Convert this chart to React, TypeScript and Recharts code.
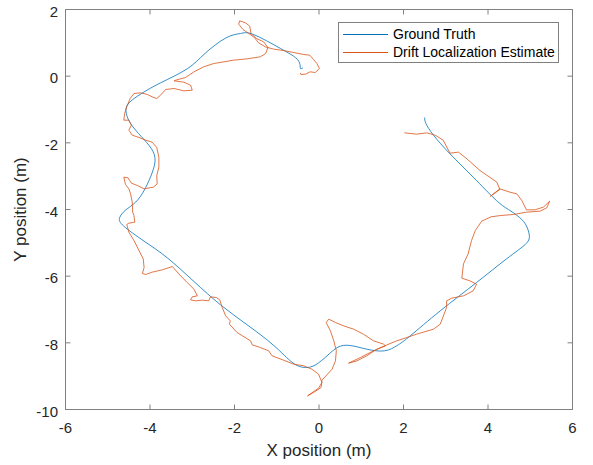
import { LineChart, Line, XAxis, YAxis, Legend, CartesianGrid, ReferenceLine } from "recharts";

// path points, [x, y] in metres, in travel order
const groundTruth: [number, number][] = [
  [2.5, -1.24], [2.53, -1.42], [2.71, -1.77], [3.1, -2.33], [3.65, -3.03],
  [4.2, -3.73], [4.52, -4.03], [4.8, -4.3], [4.93, -4.55], [4.98, -4.8],
  [4.88, -5.05], [4.44, -5.48], [3.73, -6.19], [2.87, -7.04], [2.16, -7.79],
  [1.85, -8.08], [1.55, -8.24], [1.13, -8.19], [0.74, -8.08], [0.45, -8.13],
  [0.19, -8.39], [-0.08, -8.66], [-0.32, -8.74], [-0.62, -8.6], [-1.07, -8.08],
  [-1.7, -7.46], [-2.33, -6.86], [-2.96, -6.16], [-3.59, -5.45], [-4.14, -4.95],
  [-4.62, -4.5], [-4.72, -4.25], [-4.58, -4.02], [-4.34, -3.78], [-4.14, -3.43],
  [-3.99, -3.03], [-3.88, -2.55], [-3.97, -2.17], [-4.2, -1.82], [-4.46, -1.42],
  [-4.57, -1.04], [-4.48, -0.78], [-4.2, -0.52], [-3.75, -0.2], [-3.12, 0.22],
  [-2.7, 0.68], [-2.2, 1.15], [-1.86, 1.28], [-1.55, 1.25], [-0.91, 0.83],
  [-0.55, 0.55], [-0.45, 0.35], [-0.44, 0.23], [-0.38, 0.25],
];

const driftEstimate: [number, number][] = [
  [-0.44, 0.1], [-0.43, 0.05], [-0.32, 0.06], [-0.21, 0.13], [-0.09, 0.11],
  [0.01, 0.23], [-0.05, 0.38], [-0.13, 0.5], [-0.22, 0.63], [-0.36, 0.65],
  [-0.6, 0.71], [-0.84, 0.77], [-1.07, 0.81], [-1.27, 0.88], [-1.43, 1.0],
  [-1.53, 1.16], [-1.66, 1.28], [-1.8, 1.4], [-1.9, 1.56], [-1.88, 1.66],
  [-1.74, 1.6], [-1.64, 1.5], [-1.61, 1.28], [-1.48, 1.13], [-1.31, 1.03],
  [-1.21, 0.86], [-1.26, 0.68], [-1.39, 0.58], [-1.7, 0.52], [-2.02, 0.48],
  [-2.25, 0.43], [-2.49, 0.38], [-2.73, 0.28], [-2.96, 0.13], [-3.16, -0.04],
  [-3.39, -0.12], [-3.43, -0.14], [-3.2, -0.18], [-3.04, -0.27], [-3.0, -0.42],
  [-3.2, -0.44], [-3.43, -0.37], [-3.63, -0.4], [-3.75, -0.57], [-3.84, -0.67],
  [-3.95, -0.62], [-4.06, -0.55], [-4.22, -0.5], [-4.38, -0.52], [-4.47, -0.67],
  [-4.55, -0.92], [-4.6, -1.12], [-4.62, -1.32], [-4.5, -1.32], [-4.44, -1.47],
  [-4.5, -1.62], [-4.42, -1.77], [-4.26, -1.84], [-4.1, -1.92], [-3.95, -1.98],
  [-3.84, -2.14], [-3.79, -2.43], [-3.79, -2.73], [-3.84, -2.98], [-3.83, -3.23],
  [-3.92, -3.33], [-4.14, -3.38], [-4.3, -3.28], [-4.44, -3.21], [-4.52, -3.05],
  [-4.62, -3.03], [-4.58, -3.25], [-4.5, -3.38], [-4.46, -3.53], [-4.42, -3.78],
  [-4.41, -4.08], [-4.38, -4.18], [-4.36, -4.38], [-4.5, -4.41], [-4.55, -4.45],
  [-4.5, -4.68], [-4.38, -4.93], [-4.26, -5.23], [-4.16, -5.48], [-4.14, -5.74],
  [-4.18, -5.92], [-4.1, -5.95], [-3.95, -5.88], [-3.71, -5.81], [-3.47, -5.71],
  [-3.32, -5.93], [-3.12, -6.19], [-2.96, -6.39], [-2.88, -6.59], [-3.0, -6.62],
  [-3.04, -6.71], [-2.92, -6.74], [-2.76, -6.72], [-2.61, -6.74], [-2.57, -6.62],
  [-2.43, -6.64], [-2.35, -6.71], [-2.29, -6.94], [-2.21, -7.19], [-2.1, -7.34],
  [-2.12, -7.44], [-1.94, -7.69], [-1.62, -7.94], [-1.58, -8.06], [-1.39, -8.14],
  [-1.19, -8.24], [-1.11, -8.39], [-0.84, -8.52], [-0.6, -8.64], [-0.36, -8.69],
  [-0.17, -8.79], [-0.01, -8.94], [0.07, -9.19], [-0.01, -9.36], [-0.27, -9.59],
  [-0.13, -9.49], [0.05, -9.34], [0.07, -9.12], [0.31, -8.79], [0.39, -8.54],
  [0.41, -8.24], [0.35, -7.94], [0.27, -7.64], [0.17, -7.39], [0.23, -7.29],
  [0.39, -7.39], [0.58, -7.49], [0.82, -7.59], [1.05, -7.74], [1.29, -7.94],
  [1.53, -8.04], [1.57, -8.09], [1.29, -8.24], [0.98, -8.44], [0.7, -8.61],
  [0.9, -8.54], [1.13, -8.39], [1.37, -8.19], [1.61, -8.06], [1.84, -7.94],
  [2.08, -7.84], [2.31, -7.74], [2.71, -7.59], [2.87, -7.44], [3.02, -6.94],
  [3.02, -6.74], [3.14, -6.66], [3.42, -6.59], [3.65, -6.44], [3.73, -6.24],
  [3.57, -6.14], [3.38, -6.06], [3.42, -5.63], [3.53, -5.33], [3.61, -4.93],
  [3.7, -4.63], [3.85, -4.35], [4.07, -4.22], [4.3, -4.18], [4.6, -4.15],
  [4.91, -4.08], [5.23, -4.05], [5.39, -3.95], [5.46, -3.75], [5.31, -3.93],
  [5.11, -4.01], [4.91, -4.01], [4.8, -3.73], [4.68, -3.53], [4.52, -3.48],
  [4.28, -3.38], [4.05, -3.61], [4.28, -3.4], [4.21, -3.18], [3.81, -2.83],
  [3.5, -2.48], [3.3, -2.28], [3.1, -2.31], [2.94, -1.92], [2.75, -1.77],
  [2.55, -1.7], [2.31, -1.74], [2.02, -1.7],
];

const xTicks = [-6, -4, -2, 0, 2, 4, 6];
const yTicks = [-10, -8, -6, -4, -2, 0, 2];
const xDomain = [-6, 6];
const yDomain = [-10, 2];
const seriesNames = ["Ground Truth", "Drift Localization Estimate"];
const seriesColors = ["#0072BD", "#D95319"];

const FONT = "'Liberation Sans', Arial, Helvetica, sans-serif";
const AXIS = "#808080";
const TEXT = "#262626";
const TICK_LEN = 5;

const toPoints = (pts: [number, number][]) => pts.map(([x, y]) => ({ x, y }));

// MATLAB-style inward ticks: short stubs at both ends of a reference line
function VerticalStubs(props: any) {
  const { x1, y1, y2 } = props;
  const top = Math.min(y1, y2);
  const bottom = Math.max(y1, y2);
  return (
    <g>
      <line x1={x1} y1={top} x2={x1} y2={top + TICK_LEN} stroke={AXIS} />
      <line x1={x1} y1={bottom} x2={x1} y2={bottom - TICK_LEN} stroke={AXIS} />
    </g>
  );
}

function HorizontalStubs(props: any) {
  const { x1, x2, y1 } = props;
  const left = Math.min(x1, x2);
  const right = Math.max(x1, x2);
  return (
    <g>
      <line x1={left} y1={y1} x2={left + TICK_LEN} y2={y1} stroke={AXIS} />
      <line x1={right} y1={y1} x2={right - TICK_LEN} y2={y1} stroke={AXIS} />
    </g>
  );
}

function renderLegend() {
  return (
    <div
      style={{
        width: 221,
        height: 41,
        boxSizing: "border-box",
        border: `1px solid ${AXIS}`,
        background: "#fff",
        padding: "2px 0 0 4px",
        fontFamily: FONT,
        fontSize: 14,
        lineHeight: "18px",
        color: "#000",
      }}
    >
      {seriesNames.map((name, i) => (
        <div key={name} style={{ display: "flex", alignItems: "center", whiteSpace: "nowrap" }}>
          <span
            style={{
              display: "inline-block",
              width: 45,
              height: 0,
              borderTop: `1px solid ${seriesColors[i]}`,
              marginRight: 5,
            }}
          />
          {name}
        </div>
      ))}
    </div>
  );
}

export default function App() {
  const tickStyle = { fill: TEXT, fontSize: 15, fontFamily: FONT };
  const labelStyle = { fill: TEXT, fontSize: 17, fontFamily: FONT };
  return (
    <div style={{ position: "absolute", left: 0, top: 0, width: 593, height: 465, background: "#fff" }}>
      <LineChart width={593} height={465} margin={{ top: 9.5, right: 20.5, bottom: 0, left: 0 }}>
        {/* axes box */}
        <CartesianGrid horizontalValues={yDomain} verticalValues={xDomain} stroke={AXIS} strokeWidth={1} />
        <XAxis
          dataKey="x"
          type="number"
          domain={xDomain}
          ticks={xTicks}
          allowDataOverflow
          height={55.5}
          axisLine={false}
          tickLine={false}
          tickSize={0}
          tickMargin={12.5}
          tick={tickStyle}
          label={{
            value: "X position (m)",
            position: "insideBottom",
            offset: 9,
            style: labelStyle,
          }}
        />
        <YAxis
          dataKey="y"
          type="number"
          domain={yDomain}
          ticks={yTicks}
          allowDataOverflow
          width={65.5}
          axisLine={false}
          tickLine={false}
          tickSize={0}
          tickMargin={7.5}
          tick={{ ...tickStyle, dy: 2 }}
          label={{
            value: "Y position (m)",
            angle: -90,
            position: "insideLeft",
            offset: 20,
            style: { ...labelStyle, textAnchor: "middle" },
          }}
        />
        {xTicks.map((t) => (
          <ReferenceLine key={`xt${t}`} x={t} shape={VerticalStubs} />
        ))}
        {yTicks.map((t) => (
          <ReferenceLine key={`yt${t}`} y={t} shape={HorizontalStubs} />
        ))}
        <Legend
          layout="vertical"
          align="center"
          verticalAlign="middle"
          content={renderLegend}
          wrapperStyle={{ top: 22, left: 338, width: 221, height: 41 }}
        />
        <Line
          name={seriesNames[0]}
          data={toPoints(groundTruth)}
          dataKey="y"
          type="natural"
          stroke={seriesColors[0]}
          strokeWidth={0.8}
          dot={false}
          activeDot={false}
          isAnimationActive={false}
        />
        <Line
          name={seriesNames[1]}
          data={toPoints(driftEstimate)}
          dataKey="y"
          type="linear"
          stroke={seriesColors[1]}
          strokeWidth={0.8}
          dot={false}
          activeDot={false}
          isAnimationActive={false}
        />
      </LineChart>
    </div>
  );
}
